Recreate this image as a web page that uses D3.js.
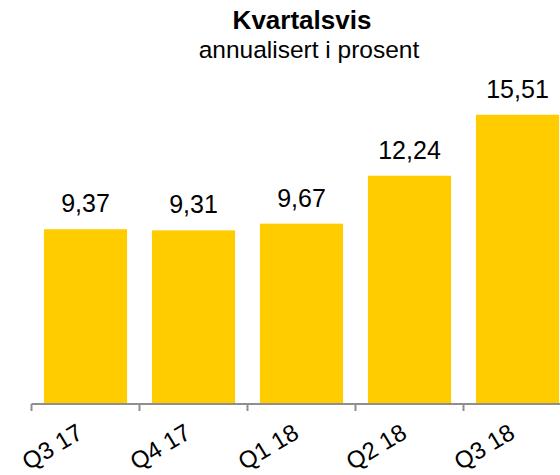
<!DOCTYPE html>
<html>
<head>
<meta charset="utf-8">
<style>
  html, body { margin: 0; padding: 0; background: #fff; }
  svg { display: block; font-family: "Liberation Sans", Arial, sans-serif; }
</style>
</head>
<body>
<div id="chart"></div>
<script src="https://cdn.jsdelivr.net/npm/d3@7"></script>
<script>
var quarters = ["Q3 17", "Q4 17", "Q1 18", "Q2 18", "Q3 18"];
var values = [9.37, 9.31, 9.67, 12.24, 15.51];
var valueLabels = ["9,37", "9,31", "9,67", "12,24", "15,51"];
var title = "Kvartalsvis";
var subtitle = "annualisert i prosent";

var width = 560, height = 475;
var barColor = "#FFCC00";
var axisColor = "#8f8f8f";

var svg = d3.select("#chart").append("svg")
  .attr("width", width)
  .attr("height", height);

var x = d3.scaleBand()
  .domain(quarters)
  .range([31.5, 571.5])
  .paddingInner(0.23)
  .paddingOuter(0.115);

var y = d3.scaleLinear()
  .domain([0, 16])
  .range([404, 105.6]);

var data = quarters.map((q, i) => ({q: q, v: values[i], label: valueLabels[i]}));

// titles
svg.append("text")
  .attr("x", 302).attr("y", 29)
  .attr("text-anchor", "middle")
  .style("font-size", "26px").style("font-weight", "bold")
  .text(title);

svg.append("text")
  .attr("x", 309).attr("y", 58)
  .attr("text-anchor", "middle")
  .style("font-size", "24.5px")
  .text(subtitle);

// bars
svg.append("g")
  .selectAll("rect")
  .data(data)
  .join("rect")
    .attr("x", d => x(d.q))
    .attr("y", d => y(d.v))
    .attr("width", x.bandwidth())
    .attr("height", d => y(0) - y(d.v))
    .attr("fill", barColor);

// value labels
svg.append("g")
  .selectAll("text")
  .data(data)
  .join("text")
    .attr("x", d => x(d.q) + x.bandwidth() / 2)
    .attr("y", d => y(d.v) - 17)
    .attr("text-anchor", "middle")
    .style("font-size", "25px")
    .text(d => d.label);

// axis: line + ticks at band edges
var half = (x.step() - x.bandwidth()) / 2;
var axis = svg.append("g").attr("stroke", axisColor).attr("stroke-width", 2);
axis.append("line")
  .attr("x1", x.range()[0]).attr("x2", width)
  .attr("y1", y(0)).attr("y2", y(0));
axis.selectAll("line.tick")
  .data(quarters)
  .join("line")
    .attr("class", "tick")
    .attr("x1", d => x(d) - half).attr("x2", d => x(d) - half)
    .attr("y1", y(0)).attr("y2", y(0) + 7);

// rotated category labels
svg.append("g")
  .selectAll("text")
  .data(quarters)
  .join("text")
    .attr("transform", d => "translate(" + (x(d) + x.bandwidth() / 2 - 1) + ",437) rotate(-31)")
    .attr("text-anchor", "end")
    .style("font-size", "24px")
    .text(d => d);
</script>
</body>
</html>
